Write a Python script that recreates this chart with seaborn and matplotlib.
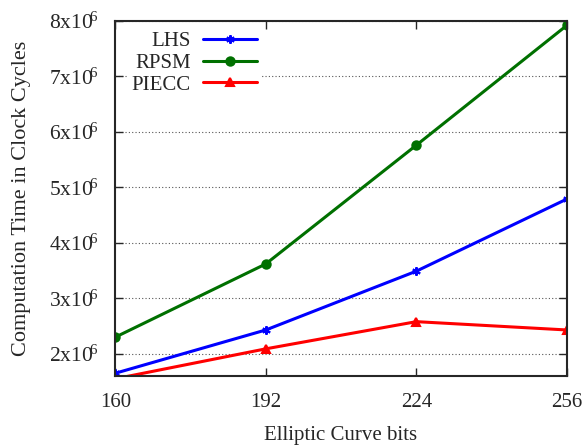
import matplotlib
matplotlib.use('Agg')
import matplotlib.pyplot as plt
import seaborn as sns
from matplotlib.ticker import FuncFormatter

# --- data ---
bits = [160, 192, 224, 256]
lhs = [1.65e6, 2.43e6, 3.49e6, 4.79e6]
rpsm = [2.30e6, 3.62e6, 5.76e6, 7.92e6]
piecc = [1.55e6, 2.09e6, 2.58e6, 2.43e6]
y_ticks = [2e6, 3e6, 4e6, 5e6, 6e6, 7e6, 8e6]

sns.set_style('ticks')
plt.rcParams['font.family'] = ['Liberation Serif', 'DejaVu Serif']
plt.rcParams['mathtext.fontset'] = 'custom'
plt.rcParams['mathtext.rm'] = 'Liberation Serif'

fig = plt.figure(figsize=(5.85, 4.45), dpi=100)
ax = fig.add_axes([0.197, 0.155, 0.772, 0.798])

# 시리즈별로 따로 그림 (마커 종류가 섞여 있어서)
series = [('LHS', lhs, '#0000ff', (6, 2, 0)),
          ('RPSM', rpsm, '#007000', 'o'),
          ('PIECC', piecc, '#ff0000', '^')]
for name, vals, col, mk in series:
    sns.lineplot(x=bits, y=vals, color=col, marker=mk, linewidth=2.2,
                 markersize=6, markeredgewidth=1.5, markeredgecolor=col,
                 label=name, ax=ax)

ax.set_xlim(160, 256)
ax.set_ylim(1.6e6, 8e6)
ax.set_xticks(bits)
ax.set_yticks(y_ticks)
ax.yaxis.set_major_formatter(FuncFormatter(
    lambda v, p: r'$\mathregular{%dx10^{\!6}}$' % round(v / 1e6)))
ax.tick_params(direction='in', top=True, right=True, length=6, width=1,
               labelsize=15, pad=12)
ax.tick_params(axis='y', labelsize=15.5, pad=12)
for s in ax.spines.values():
    s.set_linewidth(1.5)
ax.yaxis.grid(True, linestyle=(0, (1, 2)), color='#555555', linewidth=0.8)
ax.xaxis.grid(False)

ax.set_xlabel('Elliptic Curve bits', fontsize=15, labelpad=10)
ax.set_ylabel('Computation Time in Clock Cycles', fontsize=16, labelpad=13)

leg = ax.legend(loc='upper left', frameon=True, markerfirst=False,
                fontsize=15, handlelength=2.6, labelspacing=0.1,
                handletextpad=0.6, bbox_to_anchor=(0.004, 1.011),
                borderpad=0.2, fancybox=False, framealpha=1)
leg.get_frame().set_facecolor('white')
leg.get_frame().set_edgecolor('none')

fig.savefig('out.png', dpi=100)
